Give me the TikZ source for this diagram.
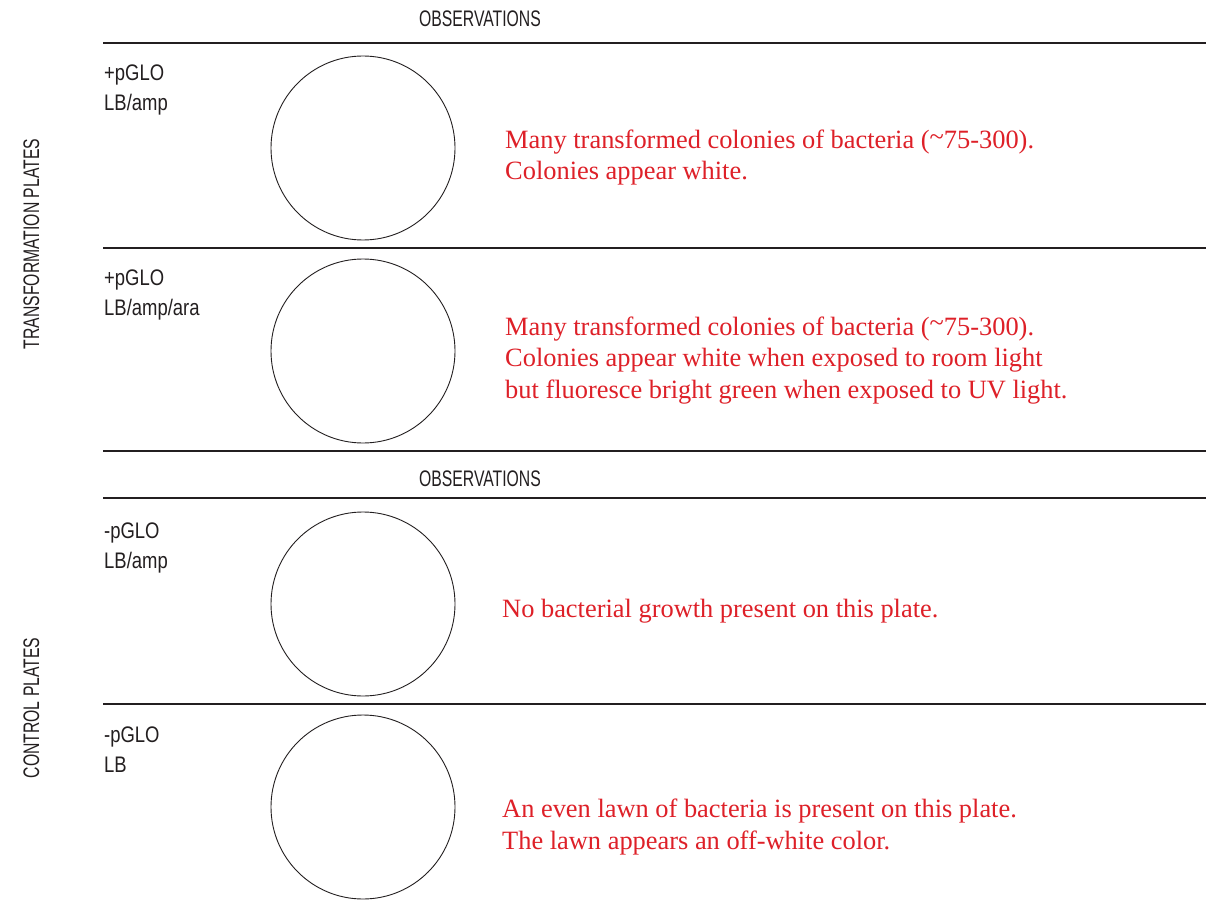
\documentclass[tikz,border=0pt]{standalone}
\usepackage{fontspec}
\setmainfont{Liberation Serif}
\newfontfamily\capsf[FakeStretch=0.70]{Liberation Sans}
\newfontfamily\labf[FakeStretch=0.82]{Liberation Sans}
\definecolor{ink}{RGB}{35,31,32}
\definecolor{obsred}{RGB}{222,32,40}
\tikzset{
  rule/.style={draw=ink, line width=1.1pt},
  plate/.style={circle, draw=ink, line width=0.9pt, minimum size=184pt, inner sep=0pt},
  head/.style={anchor=base, inner sep=0pt, text=ink, font=\capsf\fontsize{22.5}{26}\selectfont},
  side/.style={anchor=base, inner sep=0pt, rotate=90, text=ink, font=\capsf\fontsize{22.5}{26}\selectfont},
  lab/.style={anchor=base west, inner sep=0pt, text=ink, font=\labf\fontsize{22.5}{26}\selectfont},
  obs/.style={anchor=base west, inner sep=0pt, text=obsred, font=\fontsize{26.4}{31}\selectfont}
}
\begin{document}
\begin{tikzpicture}[x=1pt,y=-1pt]
\useasboundingbox (0,0) rectangle (1206,901);
\fill[white] (0,0) rectangle (1206,901);

% headers
\node[head] (obs1) at (480,27) {OBSERVATIONS};
\node[head] (obs2) at (480,486) {OBSERVATIONS};

% side labels
\node[side] (tp) at (39,244) {TRANSFORMATION PLATES};
\node[side] (cp) at (39,708) {CONTROL PLATES};

% rules
\draw[rule] (103,43) -- (1206,43);
\draw[rule] (103,248) -- (1206,248);
\draw[rule] (103,451) -- (1206,451);
\draw[rule] (103,498) -- (1206,498);
\draw[rule] (103,704) -- (1206,704);

% plates
\node[plate] (p1) at (363,148) {};
\node[plate] (p2) at (363,351) {};
\node[plate] (p3) at (363,604) {};
\node[plate] (p4) at (363,807) {};

% plate labels
\node[lab] (l1a) at (104,81) {+pGLO};
\node[lab] (l1b) at (104,111) {LB/amp};
\node[lab] (l2a) at (104,285) {+pGLO};
\node[lab] (l2b) at (104,315) {LB/amp/ara};
\node[lab] (l3a) at (104,538) {-pGLO};
\node[lab] (l3b) at (104,568) {LB/amp};
\node[lab] (l4a) at (104,742) {-pGLO};
\node[lab] (l4b) at (104,772) {LB};

% observations
\node[obs] (o1a) at (505,149) {Many transformed colonies of bacteria (\raisebox{0.15em}{\char`~}75-300).};
\node[obs] (o1b) at (505,180) {Colonies appear white.};
\node[obs] (o2a) at (505,335) {Many transformed colonies of bacteria (\raisebox{0.15em}{\char`~}75-300).};
\node[obs] (o2b) at (505,366) {Colonies appear white when exposed to room light};
\node[obs] (o2c) at (505,398) {but fluoresce bright green when exposed to UV light.};
\node[obs] (o3a) at (502,617) {No bacterial growth present on this plate.};
\node[obs] (o4a) at (502,817) {An even lawn of bacteria is present on this plate.};
\node[obs] (o4b) at (502,849) {The lawn appears an off-white color.};
\end{tikzpicture}
\end{document}
